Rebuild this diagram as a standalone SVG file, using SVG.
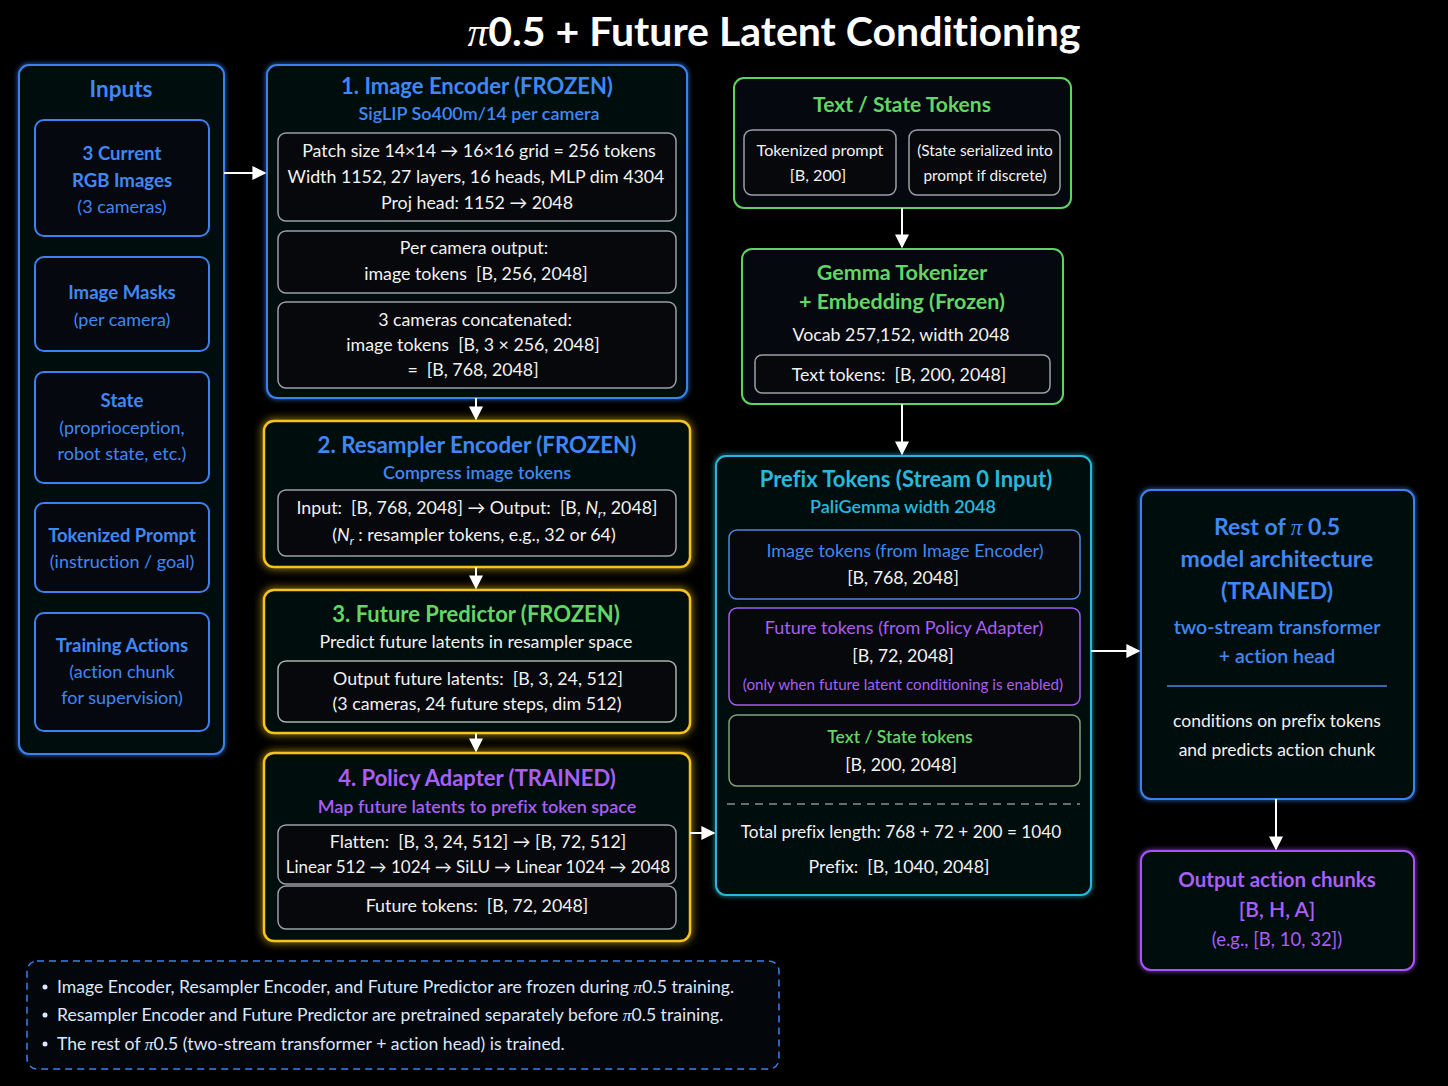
<svg xmlns="http://www.w3.org/2000/svg" width="1448" height="1086" viewBox="0 0 1448 1086">
<defs>
<marker id="ah2" viewBox="0 0 10 10" refX="9" refY="5" markerWidth="14" markerHeight="14" markerUnits="userSpaceOnUse" orient="auto"><path d="M0,0 L10,5 L0,10 z" fill="#ffffff"/></marker>
<filter id="glow" x="-10%" y="-10%" width="120%" height="120%"><feGaussianBlur in="SourceGraphic" stdDeviation="4" result="b"/><feMerge><feMergeNode in="b"/><feMergeNode in="SourceGraphic"/></feMerge></filter>
<filter id="glow2" x="-10%" y="-10%" width="120%" height="120%"><feGaussianBlur in="SourceGraphic" stdDeviation="2.5" result="b"/><feMerge><feMergeNode in="b"/><feMergeNode in="SourceGraphic"/></feMerge></filter>
</defs>
<style>
text{font-family:Lato,"Open Sans","Liberation Sans",sans-serif;text-anchor:middle;white-space:pre;font-variant-ligatures:none}
.box{fill:#05080e;stroke-width:2}
.blue{stroke:#3b82f0}
.yel{stroke:#f4c41c;stroke-width:2.5}
.grn{stroke:#5fd35f}
.cyan{stroke:#25b8d8}
.pur{stroke:#a855f7}
.inner{fill:#06080b;stroke:#9a9ea6;stroke-width:1.5}
.tb{fill:#3f88f5;font-weight:700}
.tg{fill:#63d663;font-weight:700}
.tp{fill:#a85ff5;font-weight:700}
.tc{fill:#27b9dc;font-weight:700}
.w{fill:#f2f2f2;font-size:17.8px}
.pi{font-family:"Liberation Serif","DejaVu Serif",serif;font-style:italic}
.conn{stroke:#ffffff;stroke-width:2;fill:none}
</style>
<rect width="1448" height="1086" fill="#000000"/>
<text x="774" y="46" fill="#ffffff" font-size="41" font-weight="700"><tspan class="pi" font-weight="400">π</tspan>0.5 + Future Latent Conditioning</text>

<g id="inputs">
<rect class="box blue" x="19" y="65" width="205" height="689" rx="10" filter="url(#glow2)"/>
<text x="121" y="97" class="tb" font-size="22.5">Inputs</text>
<rect class="box blue" x="35" y="120" width="174" height="116" rx="9"/>
<text x="122" y="160" class="tb" font-size="18.6">3 Current</text>
<text x="122" y="187" class="tb" font-size="18.6">RGB Images</text>
<text x="122" y="213" fill="#3f88f5" font-size="18">(3 cameras)</text>
<rect class="box blue" x="35" y="257" width="174" height="94" rx="9"/>
<text x="122" y="299" class="tb" font-size="18.6">Image Masks</text>
<text x="122" y="326" fill="#3f88f5" font-size="18">(per camera)</text>
<rect class="box blue" x="35" y="372" width="174" height="111" rx="9"/>
<text x="122" y="407" class="tb" font-size="18.6">State</text>
<text x="122" y="434" fill="#3f88f5" font-size="18">(proprioception,</text>
<text x="122" y="460" fill="#3f88f5" font-size="18">robot state, etc.)</text>
<rect class="box blue" x="35" y="503" width="174" height="89" rx="9"/>
<text x="122" y="542" class="tb" font-size="18.4">Tokenized Prompt</text>
<text x="122" y="568" fill="#3f88f5" font-size="18">(instruction / goal)</text>
<rect class="box blue" x="35" y="613" width="174" height="118" rx="9"/>
<text x="122" y="652" class="tb" font-size="18.6">Training Actions</text>
<text x="122" y="678" fill="#3f88f5" font-size="18">(action chunk</text>
<text x="122" y="704" fill="#3f88f5" font-size="18">for supervision)</text>
</g>

<g id="image-encoder">
<rect class="box blue" x="267" y="65" width="420" height="333" rx="10" filter="url(#glow2)"/>
<text x="477" y="94" class="tb" font-size="22">1. Image Encoder (FROZEN)</text>
<text x="479" y="120" fill="#3f88f5" font-size="18" font-weight="600">SigLIP So400m/14 per camera</text>
<rect class="inner" x="278" y="133" width="398" height="88" rx="8"/>
<text x="479" y="157" class="w">Patch size 14×14 → 16×16 grid = 256 tokens</text>
<text x="476" y="183" class="w">Width 1152, 27 layers, 16 heads, MLP dim 4304</text>
<text x="477" y="209" class="w">Proj head: 1152 → 2048</text>
<rect class="inner" x="278" y="231" width="398" height="62" rx="8"/>
<text x="474" y="254" class="w">Per camera output:</text>
<text x="476" y="280" class="w">image tokens  [B, 256, 2048]</text>
<rect class="inner" x="278" y="302" width="398" height="86" rx="8"/>
<text x="475" y="326" class="w">3 cameras concatenated:</text>
<text x="473" y="351" class="w">image tokens  [B, 3 × 256, 2048]</text>
<text x="473" y="376" class="w">=  [B, 768, 2048]</text>
</g>

<g id="resampler">
<rect class="box yel" x="264" y="421" width="426" height="146" rx="10" filter="url(#glow)"/>
<text x="477" y="453" class="tb" font-size="22.3">2. Resampler Encoder (FROZEN)</text>
<text x="477" y="479" fill="#3f88f5" font-size="18" font-weight="600">Compress image tokens</text>
<rect class="inner" x="278" y="490" width="398" height="66" rx="8"/>
<text x="477" y="514" class="w">Input:  [B, 768, 2048] → Output:  [B, <tspan font-style="italic">N</tspan><tspan font-style="italic" font-size="12" dy="4">r</tspan><tspan dy="-4">, 2048]</tspan></text>
<text x="474" y="541" class="w">(<tspan font-style="italic">N</tspan><tspan font-style="italic" font-size="12" dy="4">r</tspan><tspan dy="-4"> : resampler tokens, e.g., 32 or 64)</tspan></text>
</g>

<g id="future-predictor">
<rect class="box yel" x="264" y="590" width="426" height="143" rx="10" filter="url(#glow)"/>
<text x="476" y="622" class="tg" font-size="22">3. Future Predictor (FROZEN)</text>
<text x="476" y="648" class="w">Predict future latents in resampler space</text>
<rect class="inner" x="278" y="661" width="398" height="61" rx="8" style="stroke:#a7b4a7"/>
<text x="478" y="685" class="w">Output future latents:  [B, 3, 24, 512]</text>
<text x="477" y="710" class="w">(3 cameras, 24 future steps, dim 512)</text>
</g>

<g id="policy-adapter">
<rect class="box yel" x="264" y="753" width="426" height="188" rx="10" filter="url(#glow)"/>
<text x="477" y="786" class="tp" font-size="22">4. Policy Adapter (TRAINED)</text>
<text x="477" y="813" fill="#a85ff5" font-size="18" font-weight="600">Map future latents to prefix token space</text>
<rect class="inner" x="278" y="825" width="398" height="59" rx="8"/>
<text x="478" y="848" class="w">Flatten:  [B, 3, 24, 512] → [B, 72, 512]</text>
<text x="478" y="873" class="w" style="font-size:17px">Linear 512 → 1024 → SiLU → Linear 1024 → 2048</text>
<rect class="inner" x="278" y="886" width="398" height="43" rx="8"/>
<text x="477" y="912" class="w">Future tokens:  [B, 72, 2048]</text>
</g>

<g id="text-state-tokens">
<rect class="box grn" x="734" y="78" width="337" height="130" rx="10"/>
<text x="902" y="112" class="tg" font-size="21">Text / State Tokens</text>
<rect class="inner" x="744" y="130" width="152" height="65" rx="8"/>
<text x="820" y="156" class="w" style="font-size:16.2px">Tokenized prompt</text>
<text x="818" y="181" class="w" style="font-size:16.2px">[B, 200]</text>
<rect class="inner" x="909" y="130" width="151" height="65" rx="8"/>
<text x="985" y="156" class="w" style="font-size:15.4px">(State serialized into</text>
<text x="985" y="181" class="w" style="font-size:15.4px">prompt if discrete)</text>
</g>

<g id="gemma">
<rect class="box grn" x="742" y="249" width="321" height="155" rx="10"/>
<text x="902" y="280" class="tg" font-size="21.5">Gemma Tokenizer</text>
<text x="902" y="309" class="tg" font-size="21.5">+ Embedding (Frozen)</text>
<text x="901" y="341" class="w">Vocab 257,152, width 2048</text>
<rect class="inner" x="755" y="355" width="295" height="38" rx="7"/>
<text x="899" y="381" class="w">Text tokens:  [B, 200, 2048]</text>
</g>

<g id="prefix-tokens">
<rect class="box cyan" x="716" y="456" width="375" height="439" rx="10" filter="url(#glow2)"/>
<text x="906" y="487" class="tc" font-size="22">Prefix Tokens (Stream 0 Input)</text>
<text x="903" y="513" fill="#27b9dc" font-size="18" font-weight="600">PaliGemma width 2048</text>
<rect class="inner" x="729" y="530" width="351" height="69" rx="8" style="stroke:#4c86e0"/>
<text x="905" y="557" fill="#3f88f5" font-size="18">Image tokens (from Image Encoder)</text>
<text x="903" y="584" class="w">[B, 768, 2048]</text>
<rect class="inner" x="729" y="608" width="351" height="97" rx="8" style="stroke:#a35cf0"/>
<text x="904" y="634" fill="#a85ff5" font-size="18">Future tokens (from Policy Adapter)</text>
<text x="903" y="662" class="w">[B, 72, 2048]</text>
<text x="903" y="690" fill="#a85ff5" font-size="15.2">(only when future latent conditioning is enabled)</text>
<rect class="inner" x="729" y="715" width="351" height="71" rx="8" style="stroke:#7fa37a"/>
<text x="900" y="743" fill="#63d663" font-size="17.5" font-weight="600">Text / State tokens</text>
<text x="901" y="771" class="w">[B, 200, 2048]</text>
<line x1="727" y1="804" x2="1080" y2="804" stroke="#8c8c8c" stroke-width="1.5" stroke-dasharray="8 6"/>
<text x="901" y="838" class="w" style="font-size:17.2px">Total prefix length: 768 + 72 + 200 = 1040</text>
<text x="899" y="873" class="w">Prefix:  [B, 1040, 2048]</text>
</g>

<g id="rest-of-model">
<rect class="box blue" x="1141" y="490" width="273" height="309" rx="10" filter="url(#glow2)"/>
<text x="1277" y="535" class="tb" font-size="23">Rest of <tspan class="pi" font-weight="400">π</tspan> 0.5</text>
<text x="1277" y="567" class="tb" font-size="23">model architecture</text>
<text x="1277" y="599" class="tb" font-size="23">(TRAINED)</text>
<text x="1277" y="634" fill="#3f88f5" font-size="19.5" font-weight="600">two-stream transformer</text>
<text x="1277" y="663" fill="#3f88f5" font-size="19.5" font-weight="600">+ action head</text>
<line x1="1167" y1="686" x2="1387" y2="686" stroke="#4c86e0" stroke-width="1.5"/>
<text x="1277" y="727" class="w" style="font-size:17.5px">conditions on prefix tokens</text>
<text x="1277" y="756" class="w" style="font-size:17.5px">and predicts action chunk</text>
</g>

<g id="output">
<rect class="box pur" x="1141" y="851" width="273" height="119" rx="10" filter="url(#glow2)"/>
<text x="1277" y="887" class="tp" font-size="20.5">Output action chunks</text>
<text x="1277" y="917" fill="#a85ff5" font-size="21" font-weight="600">[B, H, A]</text>
<text x="1277" y="946" fill="#a85ff5" font-size="18.5">(e.g., [B, 10, 32])</text>
</g>

<g id="notes">
<rect x="27" y="961" width="752" height="108" rx="10" fill="#03060b" stroke="#3b82f0" stroke-width="1.5" stroke-dasharray="7 5"/>
<g fill="#dbe7fc">
<circle cx="45" cy="987" r="2.5"/>
<circle cx="45" cy="1015" r="2.5"/>
<circle cx="45" cy="1044" r="2.5"/>
<text x="57" y="993" font-size="17.6" style="text-anchor:start">Image Encoder, Resampler Encoder, and Future Predictor are frozen during <tspan class="pi">π</tspan>0.5 training.</text>
<text x="57" y="1021" font-size="17.6" style="text-anchor:start">Resampler Encoder and Future Predictor are pretrained separately before <tspan class="pi">π</tspan>0.5 training.</text>
<text x="57" y="1050" font-size="17.6" style="text-anchor:start">The rest of <tspan class="pi">π</tspan>0.5 (two-stream transformer + action head) is trained.</text>
</g>
</g>

<g id="connectors">
<line class="conn" x1="224" y1="173" x2="265" y2="173" marker-end="url(#ah2)"/>
<line class="conn" x1="476" y1="398" x2="476" y2="419" marker-end="url(#ah2)"/>
<line class="conn" x1="476" y1="567" x2="476" y2="588" marker-end="url(#ah2)"/>
<line class="conn" x1="476" y1="733" x2="476" y2="751" marker-end="url(#ah2)"/>
<line class="conn" x1="690" y1="833" x2="714" y2="833" marker-end="url(#ah2)"/>
<line class="conn" x1="902" y1="208" x2="902" y2="247" marker-end="url(#ah2)"/>
<line class="conn" x1="902" y1="404" x2="902" y2="454" marker-end="url(#ah2)"/>
<line class="conn" x1="1091" y1="651" x2="1139" y2="651" marker-end="url(#ah2)"/>
<line class="conn" x1="1276" y1="799" x2="1276" y2="849" marker-end="url(#ah2)"/>
</g>
</svg>
